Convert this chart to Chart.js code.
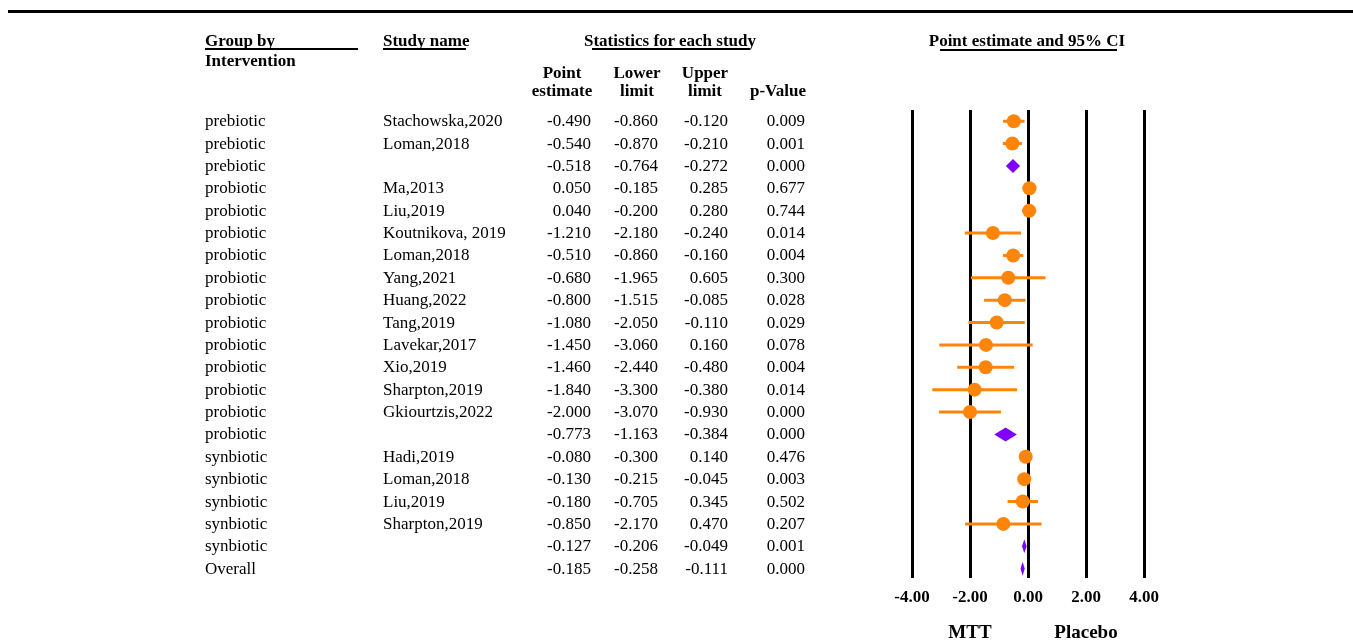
<!DOCTYPE html>
<html>
<head>
<meta charset="utf-8">
<script src="https://cdn.jsdelivr.net/npm/chart.js@4.4.1/dist/chart.umd.min.js"></script>
<style>
  html, body { margin:0; padding:0; background:#fff; }
  #page { position:relative; width:1353px; height:641px; overflow:hidden; font-family:'Liberation Serif','Times New Roman',serif; color:#000; }
  #wrap { position:absolute; left:0; top:0; width:1353px; height:641px; }
  .t { position:absolute; white-space:nowrap; font-size:17px; line-height:20px; }
  .b { font-weight:bold; }
  .r { text-align:right; width:200px; }
  .c { text-align:center; width:200px; }
  .rule { position:absolute; background:#000; }
</style>
</head>
<body>
<div id="page">
  <div class="rule" style="left:8px; top:10px; width:1345px; height:3px;"></div>
  <div id="wrap"><canvas id="c"></canvas></div>
</div>
<script>
// ---------- data ----------
const groups = ["prebiotic","prebiotic","prebiotic","probiotic","probiotic","probiotic","probiotic","probiotic","probiotic","probiotic","probiotic","probiotic","probiotic","probiotic","probiotic","synbiotic","synbiotic","synbiotic","synbiotic","synbiotic","Overall"];
const studies = ["Stachowska,2020","Loman,2018","","Ma,2013","Liu,2019","Koutnikova, 2019","Loman,2018","Yang,2021","Huang,2022","Tang,2019","Lavekar,2017","Xio,2019","Sharpton,2019","Gkiourtzis,2022","","Hadi,2019","Loman,2018","Liu,2019","Sharpton,2019","",""];
const pointEst = [-0.490,-0.540,-0.518,0.050,0.040,-1.210,-0.510,-0.680,-0.800,-1.080,-1.450,-1.460,-1.840,-2.000,-0.773,-0.080,-0.130,-0.180,-0.850,-0.127,-0.185];
const lowerLim = [-0.860,-0.870,-0.764,-0.185,-0.200,-2.180,-0.860,-1.965,-1.515,-2.050,-3.060,-2.440,-3.300,-3.070,-1.163,-0.300,-0.215,-0.705,-2.170,-0.206,-0.258];
const upperLim = [-0.120,-0.210,-0.272,0.285,0.280,-0.240,-0.160,0.605,-0.085,-0.110,0.160,-0.480,-0.380,-0.930,-0.384,0.140,-0.045,0.345,0.470,-0.049,-0.111];
const pValues  = [0.009,0.001,0.000,0.677,0.744,0.014,0.004,0.300,0.028,0.029,0.078,0.004,0.014,0.000,0.000,0.476,0.003,0.502,0.207,0.001,0.000];
const xTicks = [-4,-2,0,2,4];
const sideLabels = ["MTT","Placebo"];

// ---------- derived ----------
const ORANGE = "rgb(255,133,10)";
const PURPLE = "rgb(128,0,255)";
const rows = groups.map((g,i)=>i);
const isSummary = i => studies[i] === "";
const studyRows = rows.filter(i => !isSummary(i));
const summaryRows = rows.filter(i => isSummary(i));

const barData = [];
studyRows.forEach(i => {
  barData.push({x: lowerLim[i], y: i});
  barData.push({x: upperLim[i], y: i});
  barData.push({x: null, y: null});
});
const pointData = studyRows.map(i => ({x: pointEst[i], y: i}));

const diamondPlugin = {
  id: 'diamonds',
  afterDatasetsDraw(chart) {
    const xs = chart.scales.x, ys = chart.scales.y, ctx = chart.ctx;
    ctx.save();
    ctx.fillStyle = PURPLE;
    summaryRows.forEach(i => {
      const xl = xs.getPixelForValue(lowerLim[i]);
      const xe = xs.getPixelForValue(pointEst[i]);
      const xu = xs.getPixelForValue(upperLim[i]);
      const yc = ys.getPixelForValue(i);
      const h = 7;
      ctx.beginPath();
      ctx.moveTo(xl, yc);
      ctx.lineTo(xe, yc - h);
      ctx.lineTo(xu, yc);
      ctx.lineTo(xe, yc + h);
      ctx.closePath();
      ctx.fill();
    });
    ctx.restore();
  }
};

Chart.defaults.font.family = "'Liberation Serif','Times New Roman',serif";
Chart.defaults.color = "#000";

const chart = new Chart(document.getElementById('c'), {
  type: 'scatter',
  data: {
    datasets: [
      {
        type: 'line',
        data: barData,
        borderColor: ORANGE,
        borderWidth: 3,
        pointRadius: 0,
        spanGaps: false,
        fill: false,
        tension: 0
      },
      {
        type: 'scatter',
        data: pointData,
        backgroundColor: ORANGE,
        borderColor: ORANGE,
        borderWidth: 0,
        pointRadius: 7,
        pointHoverRadius: 7
      }
    ]
  },
  options: {
    responsive: true,
    maintainAspectRatio: false,
    animation: false,
    events: [],
    layout: { padding: { left: 912, right: 209, top: 110, bottom: 23 } },
    plugins: { legend: { display: false }, tooltip: { enabled: false } },
    scales: {
      x: {
        type: 'linear',
        min: -4, max: 4,
        afterBuildTicks: s => { s.ticks = xTicks.map(v => ({value: v})); },
        ticks: {
          padding: 10,
          font: { size: 17, weight: 'bold' },
          color: '#000',
          callback: v => Number(v).toFixed(2)
        },
        grid: { color: '#000', lineWidth: 3, drawTicks: false, drawOnChartArea: true },
        border: { display: false }
      },
      y: {
        type: 'linear',
        display: false,
        reverse: true,
        min: -0.5, max: 20.4
      }
    }
  },
  plugins: [diamondPlugin]
});

// ---------- table text (HTML) ----------
const page = document.getElementById('page');
function addText(txt, cls, left, top, extra) {
  const d = document.createElement('div');
  d.className = 't ' + cls;
  d.textContent = txt;
  d.style.left = left + 'px';
  d.style.top = top + 'px';
  if (extra) Object.assign(d.style, extra);
  page.appendChild(d);
  return d;
}
function addRule(left, top, width, height) {
  const d = document.createElement('div');
  d.className = 'rule';
  Object.assign(d.style, {left: left+'px', top: top+'px', width: width+'px', height: height+'px'});
  page.appendChild(d);
}

// headers
addText("Group by", "b", 205, 31);
addRule(205, 48, 153, 2);
addText("Intervention", "b", 205, 51);
addText("Study name", "b", 383, 31);
addRule(383, 48, 83, 2);
addText("Statistics for each study", "b c", 670 - 100, 31);
addRule(592, 48, 158, 2);
addText("Point", "b c", 562 - 100, 63);
addText("estimate", "b c", 562 - 100, 81);
addText("Lower", "b c", 637 - 100, 63);
addText("limit", "b c", 637 - 100, 81);
addText("Upper", "b c", 705 - 100, 63);
addText("limit", "b c", 705 - 100, 81);
addText("p-Value", "b c", 778 - 100, 81);
addText("Point estimate and 95% CI", "b c", 1027 - 100, 31);
addRule(940, 49, 177, 2);

// rows
const ys = chart.scales.y;
rows.forEach(i => {
  const top = Math.round(ys.getPixelForValue(i)) - 10;
  addText(groups[i], "", 205, top);
  if (studies[i]) addText(studies[i], "", 383, top);
  addText(pointEst[i].toFixed(3), "r", 591 - 200, top);
  addText(lowerLim[i].toFixed(3), "r", 658 - 200, top);
  addText(upperLim[i].toFixed(3), "r", 728 - 200, top);
  addText(pValues[i].toFixed(3), "r", 805 - 200, top);
});

// side labels under axis
const xs = chart.scales.x;
addText(sideLabels[0], "b c", Math.round(xs.getPixelForValue(-2)) - 100, 621, {fontSize: '19px', lineHeight: '22px'});
addText(sideLabels[1], "b c", Math.round(xs.getPixelForValue(2)) - 100, 621, {fontSize: '19px', lineHeight: '22px'});
</script>
</body>
</html>
